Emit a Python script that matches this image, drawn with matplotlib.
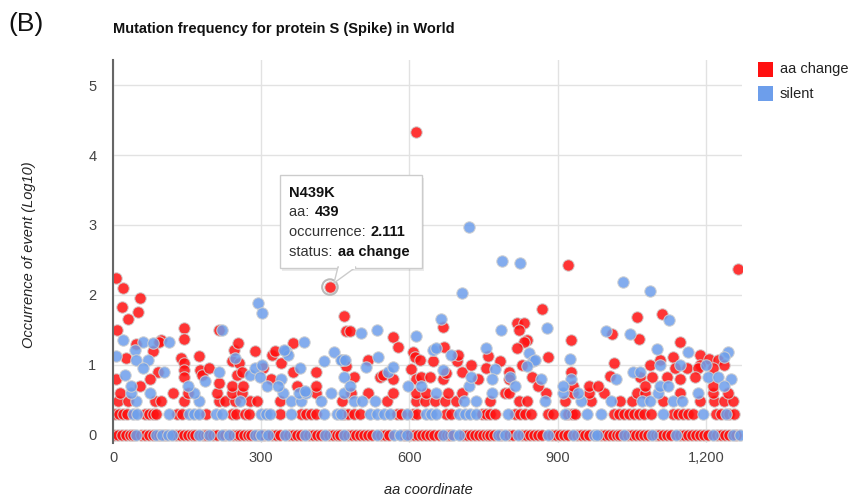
import numpy as np
import matplotlib
matplotlib.use('Agg')
import matplotlib.pyplot as plt
from matplotlib.patches import Rectangle, Polygon
from matplotlib.ticker import FuncFormatter

plt.rcParams['font.family'] = ['Liberation Sans', 'DejaVu Sans']

# ---- data (aa position, log10 occurrence) ----
# rows of repeated counts: count 1 -> 0, count 2 -> 0.301, count 3, count 4
red_c1 = [2, 10, 18, 26, 34, 40, 56, 64, 72, 80, 94, 106, 128, 136, 144, 152, 160, 166,
          182, 188, 202, 210, 226, 242, 250, 258, 266, 274, 280, 294, 306, 322, 330, 338,
          356, 364, 372, 380, 396, 404, 412, 420, 438, 446, 454, 460, 476, 484, 492, 500,
          508, 516, 524, 542, 550, 558, 588, 602, 610, 618, 626, 634, 642, 650, 660, 676,
          682, 708, 716, 724, 732, 740, 748, 756, 764, 772, 786, 802, 810, 828, 836, 844,
          852, 860, 868, 888, 896, 904, 912, 920, 940, 948, 956, 964, 988, 996, 1004, 1012,
          1020, 1026, 1042, 1050, 1058, 1066, 1074, 1082, 1098, 1106, 1114, 1122, 1130,
          1148, 1156, 1164, 1172, 1180, 1188, 1196, 1204, 1222, 1230, 1238, 1246, 1260]
blue_c1 = [47, 88, 100, 112, 120, 174, 194, 220, 234, 288, 300, 314, 348, 388, 430, 468,
           534, 568, 580, 594, 668, 688, 700, 780, 794, 820, 880, 930, 974, 980, 1034,
           1090, 1140, 1214, 1254, 1268]

red_c2 = [4, 12, 20, 28, 64, 72, 80, 88, 130, 140, 188, 240, 248, 268, 276, 338, 380, 390,
          400, 410, 468, 476, 488, 500, 574, 582, 608, 616, 674, 684, 746, 754, 764, 774,
          814, 824, 834, 846, 880, 890, 920, 928, 936, 1014, 1024, 1034, 1044, 1054, 1064,
          1074, 1088, 1134, 1144, 1154, 1164, 1174, 1220, 1230, 1246, 1256]
blue_c2 = [40, 48, 114, 154, 164, 174, 208, 220, 300, 310, 318, 360, 428, 454, 462, 520,
           534, 548, 560, 594, 634, 644, 654, 700, 712, 722, 734, 800, 914, 960, 988, 1114,
           1194, 1240]

red_c3 = [11, 31, 84, 97, 144, 214, 227, 247, 277, 291, 337, 464, 554, 614, 631, 651, 671,
          694, 764, 821, 837, 914, 967, 1027, 1051, 1114, 1187, 1217, 1237, 1254]
blue_c3 = [47, 174, 257, 361, 381, 421, 487, 504, 531, 710, 734, 874, 947, 1007, 1071,
           1087, 1134, 1151]

red_c4 = [14, 121, 151, 211, 241, 261, 411, 481, 517, 567, 614, 634, 677, 707, 794, 801,
          877, 931, 964, 994, 1061, 1077, 1147, 1214, 1244]
blue_c4 = [37, 74, 164, 344, 377, 391, 441, 467, 654, 767, 911, 941, 1104, 1184]

# scattered points above the dense rows
red_x = [7, 21, 54, 19, 51, 31, 9, 47, 97, 94, 81, 27, 91, 7, 74, 54, 144, 144, 137, 144,
         144, 144, 174, 177, 181, 195, 214, 214, 241, 244, 253, 255, 251, 262, 241, 264,
         287, 304, 319, 321, 327, 341, 364, 364, 373, 411, 411, 467, 471, 479, 566, 576,
         614, 667, 817, 831, 821, 869, 837, 831, 927, 920, 471, 487, 517, 541, 547, 567,
         604, 607, 611, 621, 614, 624, 641, 647, 669, 667, 674, 697, 699, 707, 724, 739,
         759, 754, 784, 801, 801, 817, 827, 881, 847, 861, 927, 964, 931, 1061, 1111, 1009,
         1064, 1147, 1187, 1207, 1224, 1133, 1107, 1014, 1087, 1187, 1237, 1137, 1161,
         1184, 1214, 1006, 1067, 1091, 1121, 1147, 1177, 981, 1077, 1214, 1265]
red_y = [2.24, 2.10, 1.95, 1.83, 1.75, 1.65, 1.49, 1.30, 1.36, 1.32, 1.19, 1.10, 0.90,
         0.79, 0.79, 0.69, 1.52, 1.37, 1.10, 1.02, 0.93, 0.83, 1.12, 0.93, 0.86, 0.95, 1.50,
         0.74, 1.05, 1.21, 1.31, 1.02, 0.86, 0.90, 0.69, 0.69, 1.20, 0.95, 0.79, 1.14, 1.19,
         1.02, 1.31, 0.90, 0.69, 0.90, 0.69, 1.69, 1.48, 1.48, 1.40, 1.25, 4.33, 1.54, 1.60,
         1.59, 1.49, 1.80, 1.36, 1.32, 1.36, 2.43, 0.98, 0.83, 1.07, 0.83, 0.86, 0.79, 0.94,
         1.18, 1.11, 1.07, 0.79, 0.83, 0.83, 1.05, 1.26, 0.79, 0.88, 1.05, 1.14, 0.90, 1.00,
         0.79, 1.12, 0.95, 1.05, 0.90, 0.79, 1.24, 1.00, 1.11, 0.83, 0.69, 0.90, 0.69, 0.69,
         1.68, 1.73, 1.44, 1.37, 1.32, 1.14, 1.08, 1.07, 1.11, 1.07, 1.03, 1.00, 1.00, 1.00,
         0.95, 0.95, 0.95, 0.95, 0.84, 0.83, 0.83, 0.83, 0.79, 0.83, 0.69, 0.69, 0.70, 2.37]

blue_x = [21, 61, 81, 114, 44, 7, 47, 71, 61, 104, 24, 37, 151, 187, 221, 214, 247, 277,
          287, 294, 301, 301, 297, 311, 341, 333, 351, 354, 379, 386, 389, 427, 447, 464,
          706, 720, 787, 824, 1033, 1087, 1126, 997, 1047, 1101, 1164, 1244, 1237, 502,
          534, 613, 664, 786, 879, 461, 468, 480, 513, 537, 557, 567, 597, 624, 647, 653,
          667, 684, 721, 724, 754, 773, 767, 804, 814, 841, 851, 854, 867, 925, 927, 911,
          837, 1053, 1067, 1017, 1107, 1147, 1200, 1204, 1224, 1251, 1108, 1124, 1237, 347,
          469]
blue_y = [1.36, 1.32, 1.31, 1.33, 1.21, 1.12, 1.07, 1.07, 0.95, 0.90, 0.86, 0.69, 0.69,
          0.76, 1.50, 0.90, 1.10, 0.86, 0.95, 1.88, 1.74, 1.00, 0.83, 0.69, 0.79, 0.69, 1.19,
          1.14, 0.95, 1.32, 0.62, 1.05, 1.18, 1.07, 2.03, 2.97, 2.49, 2.46, 2.19, 2.06, 1.64,
          1.48, 1.44, 1.22, 1.18, 1.18, 1.11, 1.46, 1.49, 1.41, 1.65, 1.49, 1.52, 1.07, 0.83,
          0.69, 0.97, 1.11, 0.90, 0.97, 0.69, 0.69, 1.21, 1.24, 0.93, 1.14, 0.69, 0.83, 1.24,
          0.94, 0.79, 0.83, 0.69, 1.17, 1.05, 1.07, 0.79, 1.08, 0.79, 0.69, 0.98, 0.90, 0.90,
          0.79, 1.00, 1.00, 1.00, 0.83, 0.83, 0.79, 0.69, 0.69, 0.69, 1.21, 1.07]

hl_name, hl_aa, hl_occ, hl_status = 'N439K', 439, 2.111, 'aa change'

x_ticks = [0, 300, 600, 900, 1200]
y_ticks = [0, 1, 2, 3, 4, 5]

RED = '#ff1010'
BLUE = '#6d9eeb'

def collect(rows, xs, ys):
    px, py = [], []
    for count, row in rows:
        px += row
        py += [np.log10(count)] * len(row)
    return np.array(px + xs), np.array(py + ys)

rx, ry = collect([(1, red_c1), (2, red_c2), (3, red_c3), (4, red_c4)], red_x, red_y)
bx, by = collect([(1, blue_c1), (2, blue_c2), (3, blue_c3), (4, blue_c4)], blue_x, blue_y)
rx = np.append(rx, hl_aa)
ry = np.append(ry, hl_occ)

W, H = 852, 498
def fx(px):
    return px / W
def fy(py):
    return 1 - py / H

fig = plt.figure(figsize=(W / 100, H / 100), dpi=100)
ax = fig.add_axes([fx(113), fy(443), (742 - 113) / W, (443 - 60) / H])

kw = dict(s=68, alpha=0.85, edgecolors='#d0d0d0', linewidths=0.8, zorder=3)
ax.scatter(rx, ry, color=RED, **kw)
ax.scatter(bx, by, color=BLUE, **kw)
# hovered point ring
ax.scatter([hl_aa], [hl_occ], s=125, facecolor='none', edgecolors='#bbbbbb',
           linewidths=1.5, zorder=4)

ax.set_xlim(0, 1273)
ax.set_ylim(-0.12, 5.36)
ax.set_xticks(x_ticks)
ax.set_yticks(y_ticks)
ax.xaxis.set_major_formatter(FuncFormatter(lambda v, p: f'{int(v):,}'))
ax.grid(True, color='#e2e2e2', lw=1, zorder=0)
ax.set_axisbelow(True)
for s in ['top', 'right', 'bottom']:
    ax.spines[s].set_visible(False)
ax.spines['left'].set_color('#666666')
ax.spines['left'].set_linewidth(1.5)
ax.spines['left'].set_zorder(5)
ax.tick_params(length=0, labelsize=10.5, labelcolor='#444444')
ax.tick_params(axis='y', pad=12)
ax.tick_params(axis='x', pad=6)

fig.text(fx(8), fy(24), '(B)', fontsize=19, va='center', ha='left', color='#111111')
fig.text(fx(113), fy(29), 'Mutation frequency for protein S (Spike) in World',
         fontsize=10.5, fontweight='bold', va='center', ha='left', color='#111111')
fig.text(fx(29), fy(255), 'Occurrence of event (Log10)', rotation=90, style='italic',
         fontsize=10.5, va='center', ha='center', color='#222222')
fig.text(fx(428), fy(490), 'aa coordinate', style='italic', fontsize=10.5,
         va='center', ha='center', color='#222222')

# legend
for i, (lab, col) in enumerate([('aa change', RED), ('silent', BLUE)]):
    top = 62 + i * 24
    fig.add_artist(Rectangle((fx(758), fy(top + 15)), 15 / W, 15 / H,
                             transform=fig.transFigure, color=col, lw=0))
    fig.text(fx(780), fy(top + 7.5), lab, fontsize=10.5, va='center', ha='left',
             color='#222222')

# tooltip
fig.add_artist(Rectangle((fx(282), fy(271)), 142 / W, 93 / H, transform=fig.transFigure,
                         facecolor='#000000', alpha=0.08, lw=0, zorder=9))
fig.add_artist(Rectangle((fx(280), fy(268)), 142 / W, 93 / H, transform=fig.transFigure,
                         facecolor='white', edgecolor='#cccccc', lw=1, zorder=10))
fig.add_artist(Polygon([(fx(338), fy(267)), (fx(334), fy(283)), (fx(356), fy(267))],
                       closed=True, transform=fig.transFigure, facecolor='white',
                       edgecolor='#cccccc', lw=1, zorder=10))
fig.add_artist(Polygon([(fx(339), fy(268.5)), (fx(355), fy(268.5)), (fx(355), fy(266)),
                        (fx(339), fy(266))], closed=True, transform=fig.transFigure,
                       facecolor='white', lw=0, zorder=11))

fig.canvas.draw()
renderer = fig.canvas.get_renderer()
fig.text(fx(289), fy(193), hl_name, fontsize=10.5, fontweight='bold', va='center',
         ha='left', color='#111111', zorder=12)
lines = [(212, 'aa: ', str(hl_aa)), (232, 'occurrence: ', f'{hl_occ:.3f}'),
         (252, 'status: ', hl_status)]
for py, a, b in lines:
    t = fig.text(fx(289), fy(py), a, fontsize=10.5, va='center', ha='left',
                 color='#333333', zorder=12)
    bb = t.get_window_extent(renderer)
    fig.text(bb.x1 / W + 1 / W, fy(py), b, fontsize=10.5, fontweight='bold',
             va='center', ha='left', color='#111111', zorder=12)

fig.savefig('out.png', dpi=100)
